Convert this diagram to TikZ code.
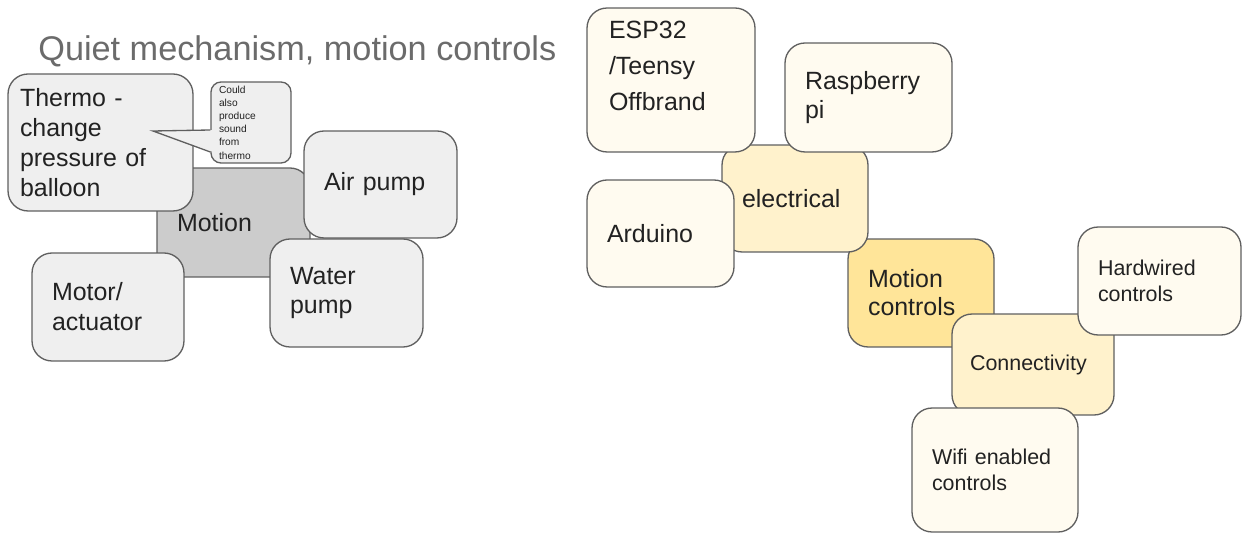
\documentclass[tikz,border=0pt]{standalone}
\usepackage{fontspec}
\setmainfont{Liberation Sans}
\usetikzlibrary{calc}
\definecolor{edgegray}{HTML}{5F5F5F}
\definecolor{boxgray}{HTML}{EFEFEF}
\definecolor{motiongray}{HTML}{CCCCCC}
\definecolor{creamfill}{HTML}{FFFBF0}
\definecolor{paleyellow}{HTML}{FFF2CC}
\definecolor{goldfill}{HTML}{FFE599}
\definecolor{inkblack}{HTML}{222222}
\definecolor{titlegray}{HTML}{6B6B6B}

\begin{document}
\begin{tikzpicture}[x=0.02cm, y=-0.02cm,
  gbox/.style={rectangle, rounded corners=0.4cm, draw=edgegray, line width=0.75pt,
               fill=boxgray, align=left, inner xsep=0.4cm, inner ysep=0pt,
               font=\fontsize{14.2}{17}\selectfont, text=inkblack},
  ybox/.style={gbox, fill=creamfill, font=\fontsize{14.2}{16}\selectfont},
  sbox/.style={ybox, font=\fontsize{12.2}{15}\selectfont},
  tline/.style={draw=edgegray, line width=0.75pt}
]
\useasboundingbox (0,0) rectangle (1243,533);

% Title
\node[anchor=base west, inner sep=0pt, text=titlegray, font=\fontsize{19.5}{23}\selectfont]
  (title) at (38,61) {Quiet mechanism, motion controls};

% Motion group
\node[gbox, fill=motiongray, minimum width=3.06cm, minimum height=2.18cm, text width=2.26cm] (motion) at (233.5,222.5) {Motion};
\node[gbox, minimum width=3.70cm, minimum height=2.74cm, inner xsep=0.24cm, text width=3.22cm] (thermo) at (100.5,142.5) {Thermo -\\change\\pressure of\\balloon};
\node[gbox, minimum width=3.06cm, minimum height=2.14cm, text width=2.26cm] (airpump) at (380.5,184.5) {Air pump};
\node[gbox, minimum width=3.06cm, minimum height=2.16cm, text width=2.26cm] (waterpump) at (346.5,293) {Water\\pump};
\node[gbox, minimum width=3.04cm, minimum height=2.16cm, text width=2.24cm] (motor) at (108,307) {Motor/\\actuator};

% Note bubble
\node[gbox, rounded corners=0.2cm, minimum width=1.6cm, minimum height=1.62cm, inner xsep=0.16cm,
      text width=1.28cm, font=\fontsize{5.8}{7.5}\selectfont] (note) at (251,122.5)
      {Could\\also\\produce\\sound\\from\\thermo};
\coordinate (tip) at (153,131);
\fill[boxgray] ($(note.west)+(3,7.5)$) -- (tip) -- ($(note.west)+(3,29.5)$) -- cycle;
\draw[tline] ($(note.west)+(0,7.5)$) -- (tip) -- ($(note.west)+(0,29.5)$);

% Electrical group
\node[ybox, fill=goldfill, minimum width=2.92cm, minimum height=2.16cm, text width=2.12cm] (motionctl) at (921,293) {Motion\\controls};
\node[ybox, fill=paleyellow, minimum width=2.92cm, minimum height=2.14cm, text width=2.12cm] (elec) at (795,198.5) {electrical};
\node[sbox, fill=paleyellow, minimum width=3.24cm, minimum height=2.02cm, inner xsep=0.36cm, text width=2.52cm] (conn) at (1033,364.5) {Connectivity};
\node[ybox, minimum width=3.36cm, minimum height=2.88cm, inner xsep=0.44cm, text width=2.48cm,
      font=\fontsize{14.2}{20.7}\selectfont] (esp) at (671,80) {ESP32\\/Teensy\\Offbrand\\[-0.16cm]\mbox{}};
\node[ybox, minimum width=3.34cm, minimum height=2.18cm, text width=2.54cm] (rpi) at (868.5,97.5) {Raspberry\\pi};
\node[ybox, minimum width=2.94cm, minimum height=2.14cm, text width=2.14cm] (arduino) at (660.5,233.5) {Arduino};
\node[sbox, minimum width=3.26cm, minimum height=2.16cm, text width=2.46cm] (hardwired) at (1159.5,281) {Hardwired\\controls};
\node[sbox, minimum width=3.32cm, minimum height=2.48cm, text width=2.52cm] (wifi) at (995,470) {Wifi enabled\\controls};
\end{tikzpicture}
\end{document}
